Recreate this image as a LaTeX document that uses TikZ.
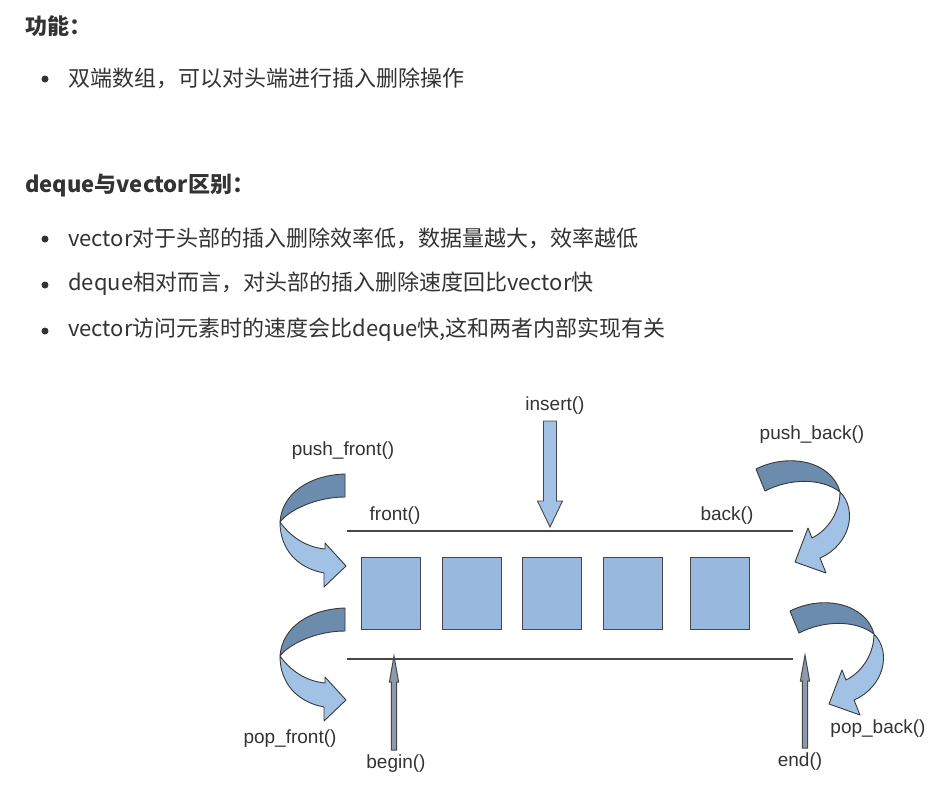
\documentclass[tikz,border=0pt]{standalone}
\usepackage{fontspec}
\usepackage{xcolor}
\usepackage{tikz}
\usetikzlibrary{positioning, calc}
\newfontfamily\cjkfont{Noto Sans CJK SC}
\newfontfamily\labfont{Liberation Sans}
\definecolor{ink}{HTML}{333333}
\definecolor{edge}{HTML}{474747}
\definecolor{cellFill}{HTML}{96B9DD}
\definecolor{ribDark}{HTML}{6C8CAD}
\definecolor{ribLight}{HTML}{A1C2E4}
\definecolor{shaftGray}{HTML}{8C9AAB}
% straight block arrow: tail, tip, half shaft, half head, head length
\newcommand{\blockarrow}[6][]{\coordinate (#2-h) at ($(#3)!#6!(#2)$);
\filldraw[arrowbody, #1] ($(#2)!#4!90:(#3)$) -- ($(#2-h)!#4!90:(#3)$) -- ($(#2-h)!#5!90:(#3)$) -- (#3) -- ($(#2-h)!#5!-90:(#3)$) -- ($(#2-h)!#4!-90:(#3)$) -- ($(#2)!#4!-90:(#3)$) -- cycle;}
% ribbon arrows, placed by their upper cut end
\newcommand{\frontribbon}[1]{\begin{scope}[shift={(#1)}]
\filldraw[ribbon, fill=ribDark] (0,0) .. controls (-35,1) and (-63,19) .. (-65,48) .. controls (-57,37) and (-30,23) .. (0,23) -- cycle;
\filldraw[ribbon, fill=ribLight] (-65,48) .. controls (-55,62) and (-40,73) .. (-20,75) -- (-20,69) -- (1,92) -- (-21,113) -- (-21,99) .. controls (-48,94) and (-65,75) .. (-65,48) -- cycle;
\end{scope}}
\newcommand{\backribbon}[1]{\begin{scope}[shift={(#1)}]
\filldraw[ribbon, fill=ribDark] (0,0) .. controls (34,-17) and (76,-7) .. (84,23) .. controls (66,9) and (34,9) .. (9,22) -- cycle;
\filldraw[ribbon, fill=ribLight] (84,23) .. controls (102,41) and (94,76) .. (64,89) -- (70,104) -- (39,93) -- (52,59) -- (56,69) .. controls (72,61) and (84,43) .. (84,23) -- cycle;
\end{scope}}

\begin{document}
\begin{tikzpicture}[x=1pt, y=-1pt, cell/.style={draw=edge, fill=cellFill, line width=1pt, minimum width=59pt, minimum height=72pt, inner sep=0pt}, lbl/.style={font=\labfont\fontsize{19}{22}\selectfont, text=ink, inner sep=0pt}, txt/.style={anchor=west, inner sep=0pt, text=ink, font=\cjkfont\fontsize{22}{27}\selectfont}, hdr/.style={txt, font=\cjkfont\bfseries\fontsize{22}{27}\selectfont}, dot/.style={circle, fill=ink, inner sep=0pt, minimum size=7pt}, rail/.style={draw=edge, line width=1.3pt}, arrowbody/.style={fill=ribLight, draw=edge, line width=0.9pt, line join=miter}, ribbon/.style={draw=edge!80!black, line width=0.9pt, line join=round}]
\useasboundingbox (0,0) rectangle (945,800);
\fill[white] (0,0) rectangle (945,800);
% text part
\node[hdr] (h1) at (25,26) {功能：};
\node[dot] (d1) at (45,79) {}; \node[txt] (t1) at (68,78) {双端数组，可以对头端进行插入删除操作};
\node[hdr] (h2) at (25,186) {deque与vector区别：};
\node[dot] (d2) at (45,239) {}; \node[txt] (t2) at (68,238) {vector对于头部的插入删除效率低，数据量越大，效率越低};
\node[dot] (d3) at (45,285) {}; \node[txt] (t3) at (68,284) {deque相对而言，对头部的插入删除速度回比vector快};
\node[dot] (d4) at (45,331) {}; \node[txt] (t4) at (68,330) {vector访问元素时的速度会比deque快,这和两者内部实现有关};
% deque cells
\node[cell] (c1) at (390.5,593) {};
\node[cell, right=21pt of c1] (c2) {};
\node[cell, right=20pt of c2] (c3) {};
\node[cell, right=21pt of c3] (c4) {};
\node[cell, right=27pt of c4] (c5) {};
\coordinate (tl) at (347,531); \coordinate (tr) at (793,531);
\coordinate (bl) at (347,659); \coordinate (br) at (793,659);
\draw[rail] (tl) -- (tr); \draw[rail] (bl) -- (br);
% labels
\node[lbl] (front) at (395,516) {front()};
\node[lbl] (back) at (727,516) {back()};
\node[lbl] (ins) at (555,406) {insert()};
\node[lbl] (pushf) at (343,451) {push\_front()};
\node[lbl] (pushb) at (812,435) {push\_back()};
\node[lbl] (popf) at (290,739) {pop\_front()};
\node[lbl] (popb) at (878,729) {pop\_back()};
\node[lbl] (beg) at (396,764) {begin()};
\node[lbl] (fin) at (800,762) {end()};
% arrows
\coordinate (insTail) at (550,421); \coordinate (insTip) at (550,527);
\blockarrow{insTail}{insTip}{6.5pt}{12.5pt}{26pt}
\coordinate (begTail) at (394,750); \coordinate (begTip) at (394,656);
\blockarrow[fill=shaftGray, line width=1pt]{begTail}{begTip}{2.6pt}{4.6pt}{26pt}
\coordinate (finTail) at (805,748); \coordinate (finTip) at (805,655);
\blockarrow[fill=shaftGray, line width=1pt]{finTail}{finTip}{2.6pt}{4.6pt}{26pt}
\frontribbon{345,474}
\frontribbon{345,608}
\backribbon{756,469}
\backribbon{790,611}
\end{tikzpicture}
\end{document}
